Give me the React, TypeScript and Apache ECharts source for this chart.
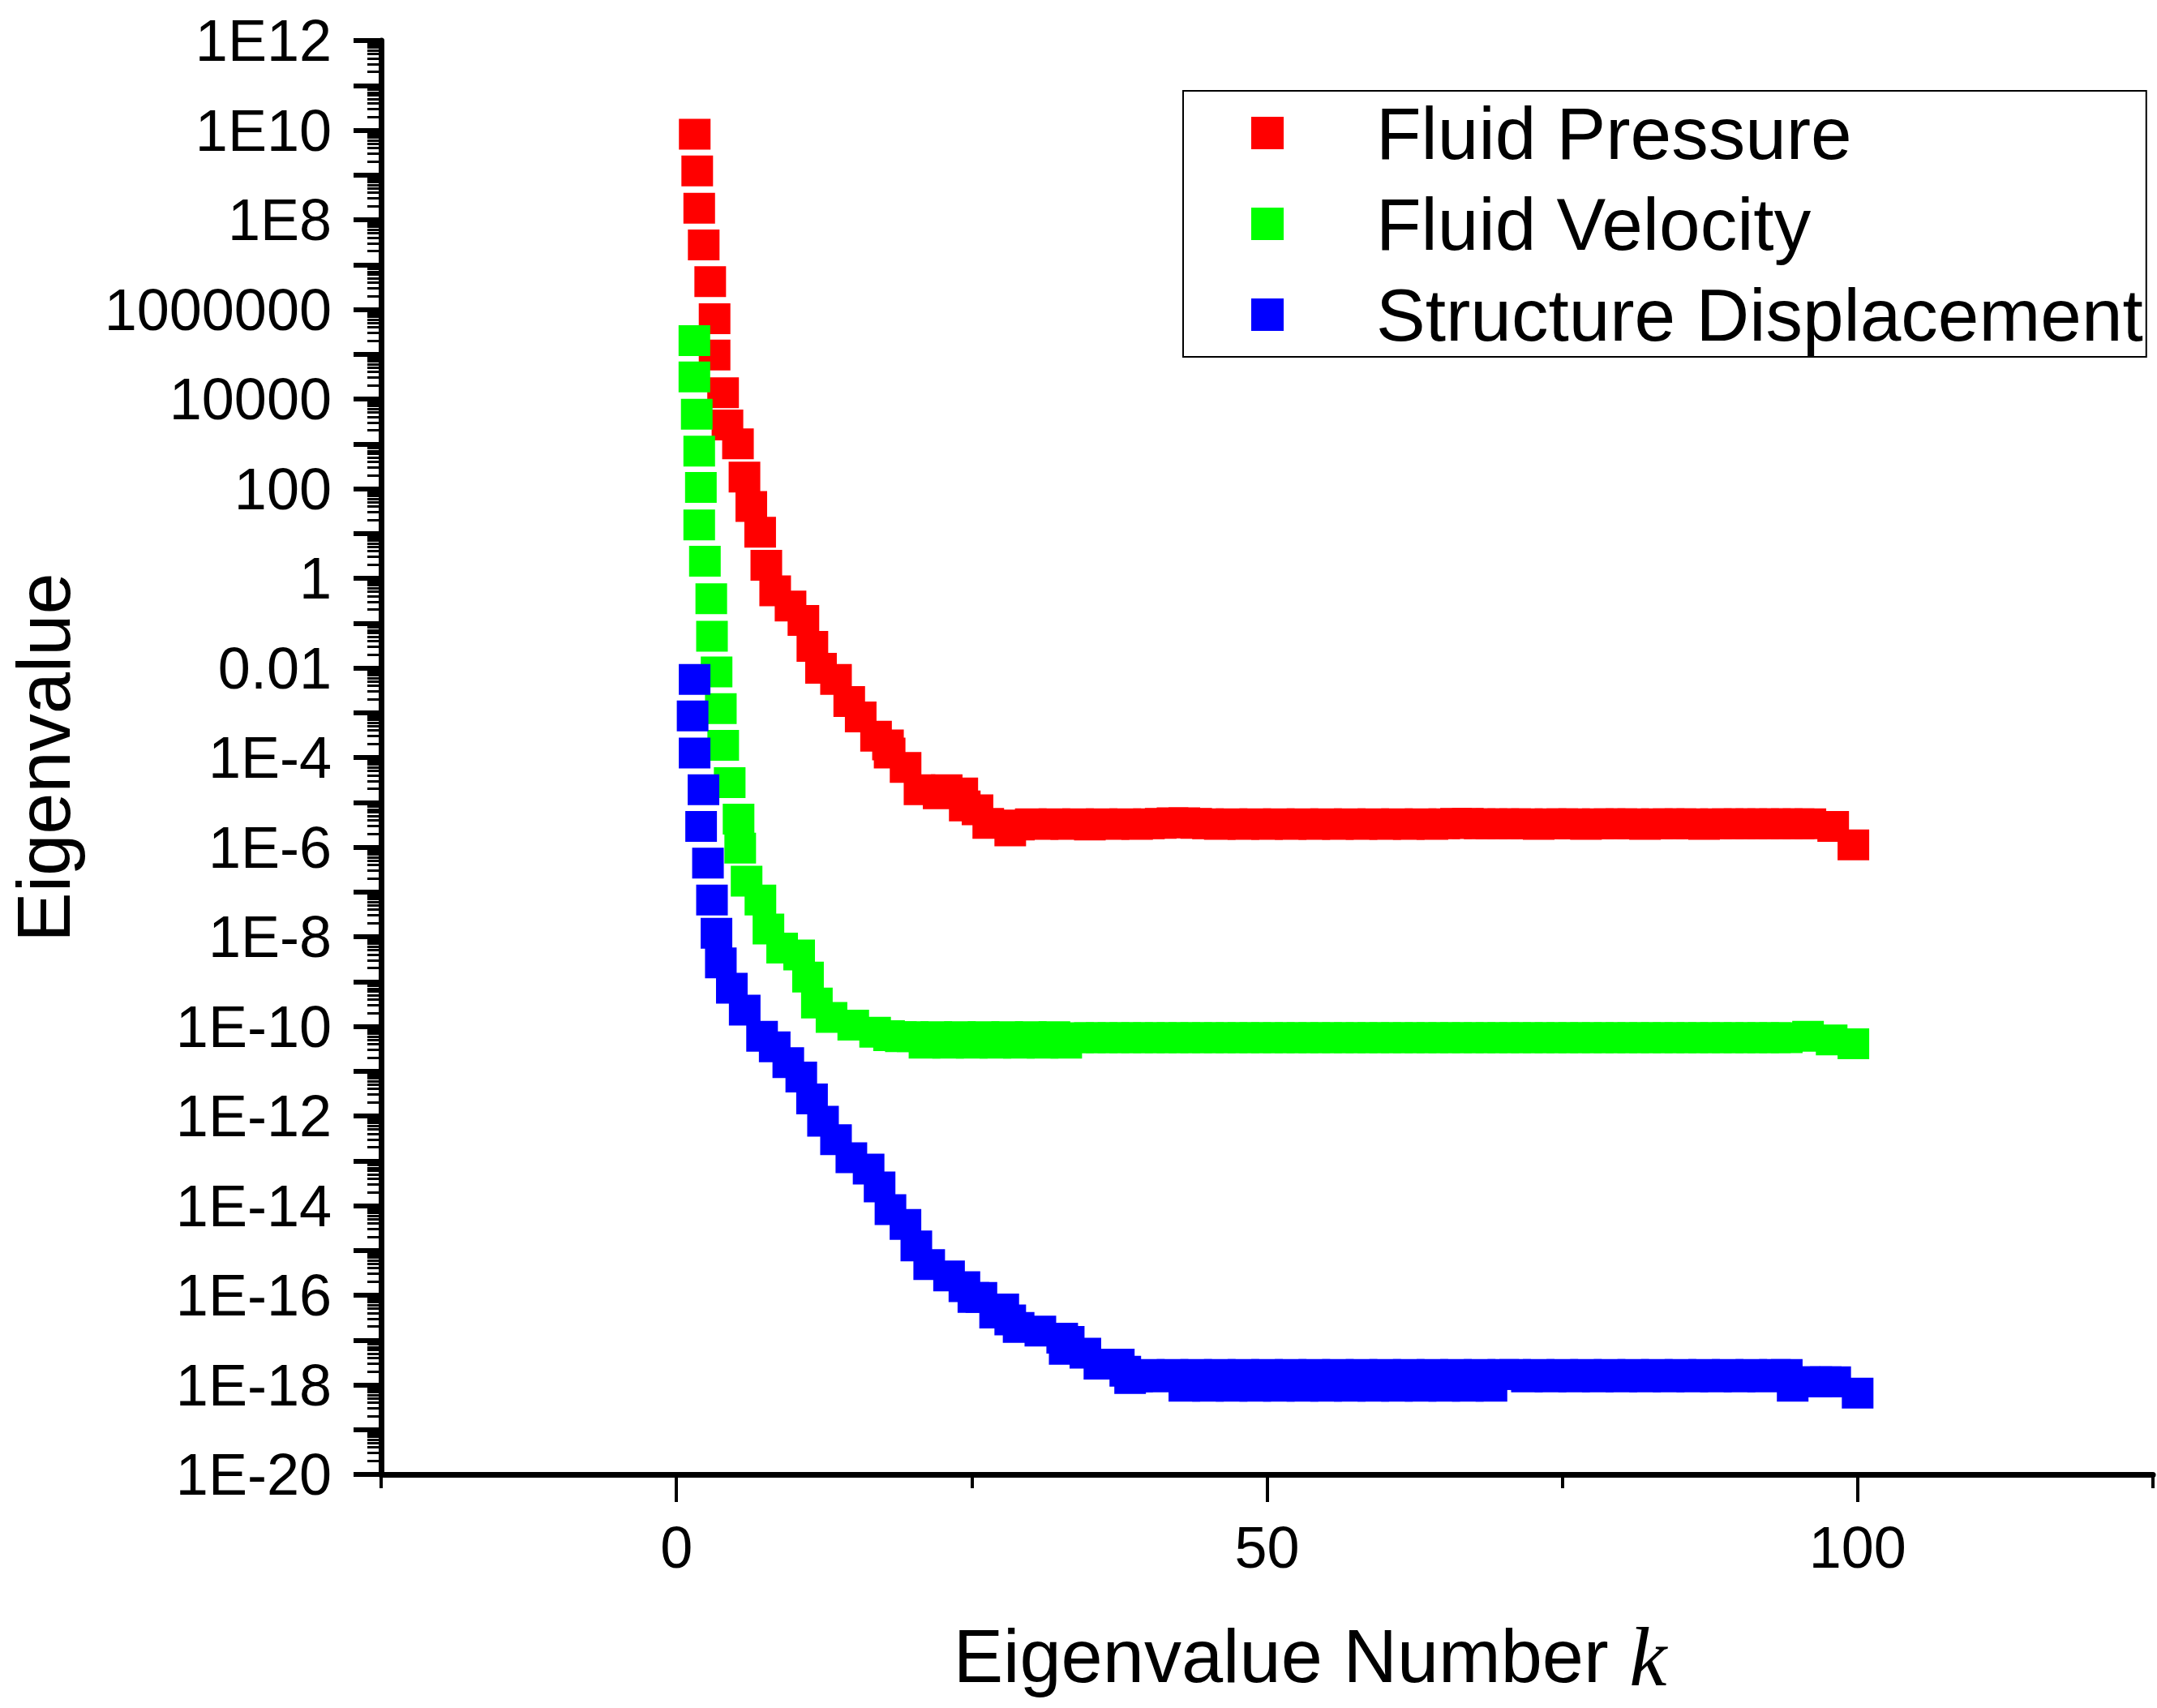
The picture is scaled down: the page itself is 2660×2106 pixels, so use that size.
import React, { useEffect, useRef } from "react";
import * as echarts from "echarts";

// ---- data (x = eigenvalue number k, y = eigenvalue) ----
const pressurePoints: [number, number][] = [
  [1.55, 8.1e9], [1.76, 1.23e9], [1.93, 1.82e8], [2.31, 2.75e7], [2.86, 4.17e6],
  [3.23, 6.17e5], [3.23, 9.55e4], [3.95, 1.38e4], [4.32, 2.63e3], [5.21, 1.0e3],
  [5.76, 182], [6.34, 39.8], [7.09, 10.7], [7.61, 1.95], [8.36, 0.525],
  [9.66, 0.24], [10.75, 0.115], [11.51, 0.0302], [12.24, 0.00977], [13.51, 0.0055],
  [14.63, 0.00178], [15.6, 8.0e-4], [16.9, 3.0e-4], [17.91, 1.9e-4], [18.05, 1.26e-4],
  [19.4, 6.0e-5], [20.58, 1.9e-5], [22.2, 1.55e-5], [22.88, 1.9e-5], [24.2, 1.62e-5],
  [24.41, 8.3e-6], [25.49, 6.8e-6], [26.4, 3.4e-6], [28.26, 2.3e-6],
  [29, 3.1e-6], [30, 3.3e-6], [31, 3.2e-6], [32, 3.3e-6], [33, 3.2e-6], [34, 3.3e-6],
  [35, 3.1e-6], [36, 3.3e-6], [37, 3.2e-6], [38, 3.3e-6], [39, 3.2e-6], [40, 3.3e-6],
  [41, 3.4e-6], [42, 3.5e-6], [43, 3.5e-6], [44, 3.4e-6], [45, 3.3e-6], [46, 3.2e-6],
  [47, 3.3e-6], [48, 3.2e-6], [49, 3.3e-6], [50, 3.2e-6], [51, 3.3e-6], [52, 3.2e-6],
  [53, 3.3e-6], [54, 3.2e-6], [55, 3.3e-6], [56, 3.2e-6], [57, 3.3e-6], [58, 3.2e-6],
  [59, 3.3e-6], [60, 3.2e-6], [61, 3.3e-6], [62, 3.2e-6], [63, 3.3e-6], [64, 3.2e-6],
  [65, 3.3e-6], [66, 3.4e-6], [67, 3.4e-6], [68, 3.3e-6], [69, 3.3e-6], [70, 3.3e-6],
  [71, 3.3e-6], [72, 3.3e-6], [73, 3.2e-6], [74, 3.3e-6], [75, 3.3e-6], [76, 3.3e-6],
  [77, 3.2e-6], [78, 3.3e-6], [79, 3.3e-6], [80, 3.3e-6], [81, 3.3e-6], [82, 3.2e-6],
  [83, 3.3e-6], [84, 3.3e-6], [85, 3.3e-6], [86, 3.3e-6], [87, 3.2e-6], [88, 3.3e-6],
  [89, 3.3e-6], [90, 3.3e-6], [91, 3.3e-6], [92, 3.3e-6], [93, 3.3e-6], [94, 3.3e-6],
  [95, 3.3e-6], [96, 3.3e-6], [97.93, 2.9e-6], [99.64, 1.12e-6],
];

const velocityPoints: [number, number][] = [
  [1.52, 2.0e5], [1.52, 3.1e4], [1.72, 4.6e3], [1.93, 690], [2.07, 107],
  [1.93, 15.5], [2.41, 2.4], [2.95, 0.35], [3.01, 0.051], [3.4, 8.1e-3],
  [3.76, 1.23e-3], [3.96, 1.86e-4], [4.51, 2.75e-5], [5.26, 4.2e-6], [5.4, 9.5e-7],
  [5.94, 1.74e-7], [7.11, 6.6e-8], [7.79, 1.48e-8], [8.95, 5.6e-9], [10.39, 3.9e-9],
  [11.14, 1.26e-9], [11.89, 3.3e-10], [13.13, 1.58e-10], [14.97, 1.07e-10], [16.82, 7.4e-11],
  [18, 6.2e-11], [19, 5.9e-11], [20, 5.9e-11], [21, 4.2e-11], [22, 5.9e-11], [23, 4.2e-11],
  [24, 5.9e-11], [25, 4.2e-11], [26, 5.9e-11], [27, 4.2e-11], [28, 5.9e-11], [29, 4.2e-11],
  [30, 5.9e-11], [31, 4.2e-11], [32, 5.9e-11], [33, 4.2e-11], [34, 5.6e-11], [35, 5.6e-11],
  [36, 5.6e-11], [37, 5.6e-11], [38, 5.6e-11], [39, 5.6e-11], [40, 5.6e-11], [41, 5.6e-11],
  [42, 5.6e-11], [43, 5.6e-11], [44, 5.6e-11], [45, 5.6e-11], [46, 5.6e-11], [47, 5.6e-11],
  [48, 5.6e-11], [49, 5.6e-11], [50, 5.6e-11], [51, 5.6e-11], [52, 5.6e-11], [53, 5.6e-11],
  [54, 5.6e-11], [55, 5.6e-11], [56, 5.6e-11], [57, 5.6e-11], [58, 5.6e-11], [59, 5.6e-11],
  [60, 5.6e-11], [61, 5.6e-11], [62, 5.6e-11], [63, 5.6e-11], [64, 5.6e-11], [65, 5.6e-11],
  [66, 5.6e-11], [67, 5.6e-11], [68, 5.6e-11], [69, 5.6e-11], [70, 5.6e-11], [71, 5.6e-11],
  [72, 5.6e-11], [73, 5.6e-11], [74, 5.6e-11], [75, 5.6e-11], [76, 5.6e-11], [77, 5.6e-11],
  [78, 5.6e-11], [79, 5.6e-11], [80, 5.6e-11], [81, 5.6e-11], [82, 5.6e-11], [83, 5.6e-11],
  [84, 5.6e-11], [85, 5.6e-11], [86, 5.6e-11], [87, 5.6e-11], [88, 5.6e-11], [89, 5.6e-11],
  [90, 5.6e-11], [91, 5.6e-11], [92, 5.6e-11], [93, 5.6e-11], [94, 5.6e-11],
  [95.8, 6.0e-11], [97.8, 5.0e-11], [99.64, 4.1e-11],
];

const displacementPoints: [number, number][] = [
  [1.54, 5.5e-3], [1.37, 8.5e-4], [1.54, 1.26e-4], [2.29, 1.9e-5], [2.09, 2.9e-6],
  [2.67, 4.4e-7], [3.01, 6.6e-8], [3.39, 1.2e-8], [3.76, 2.6e-9], [4.69, 7.1e-10],
  [5.78, 2.3e-10], [7.25, 6.0e-11], [8.32, 3.5e-11], [9.47, 1.55e-11], [10.57, 7.4e-12],
  [11.48, 2.4e-12], [12.41, 7.6e-13], [13.51, 2.95e-13], [14.81, 1.17e-13], [16.27, 6.5e-14],
  [17.2, 2.6e-14], [18.12, 8.1e-15], [19.39, 3.8e-15], [20.31, 1.26e-15], [21.4, 4.8e-16],
  [23.08, 2.7e-16], [24.38, 1.55e-16], [25.14, 8.9e-17], [25.82, 8.9e-17], [26.98, 4.0e-17],
  [27.67, 4.9e-17], [28.26, 2.8e-17], [28.97, 1.9e-17], [30.81, 1.58e-17], [32.66, 1.1e-17],
  [32.87, 6.2e-18], [33.21, 9.3e-18], [34.62, 5.1e-18], [35.81, 2.9e-18], [37.45, 2.9e-18],
  [38.0, 2.0e-18], [38.41, 1.38e-18],
  [39, 1.5e-18], [40, 1.7e-18], [41, 1.5e-18], [42, 1.7e-18], [43, 9.3e-19], [44, 1.7e-18],
  [45, 9.3e-19], [46, 1.7e-18], [47, 9.3e-19], [48, 1.7e-18], [49, 9.3e-19], [50, 1.7e-18],
  [51, 9.3e-19], [52, 1.7e-18], [53, 9.3e-19], [54, 1.7e-18], [55, 9.3e-19], [56, 1.7e-18],
  [57, 9.3e-19], [58, 1.7e-18], [59, 9.3e-19], [60, 1.7e-18], [61, 9.3e-19], [62, 1.7e-18],
  [63, 9.3e-19], [64, 1.7e-18], [65, 9.3e-19], [66, 1.7e-18], [67, 9.3e-19], [68, 1.7e-18],
  [69, 9.3e-19], [70, 1.7e-18], [71, 1.7e-18], [72, 1.5e-18], [73, 1.7e-18], [74, 1.5e-18],
  [75, 1.7e-18], [76, 1.5e-18], [77, 1.7e-18], [78, 1.5e-18], [79, 1.7e-18], [80, 1.5e-18],
  [81, 1.7e-18], [82, 1.5e-18], [83, 1.7e-18], [84, 1.5e-18], [85, 1.7e-18], [86, 1.5e-18],
  [87, 1.7e-18], [88, 1.5e-18], [89, 1.7e-18], [90, 1.5e-18], [91, 1.7e-18], [92, 1.5e-18],
  [93, 1.7e-18], [94, 1.7e-18], [94.5, 9.3e-19], [95.5, 1.17e-18], [96.5, 1.17e-18],
  [97.3, 1.17e-18], [98.1, 1.17e-18], [100, 6.5e-19],
];

const seriesNames = ["Fluid Pressure", "Fluid Velocity", "Structure Displacement"];
const seriesColors = ["#ff0000", "#00ff00", "#0000ff"];

const xMin = -25;
const xMax = 125;
const xMajorTicks = [0, 50, 100];
const xMinorTicks = [-25, 25, 75, 125];

const yMin = 1e-20;
const yMax = 1e12;
const yLabelValues = [1e-20, 1e-18, 1e-16, 1e-14, 1e-12, 1e-10, 1e-8, 1e-6, 1e-4, 1e-2, 1, 1e2, 1e4, 1e6, 1e8, 1e10, 1e12];
const yDecadeExponents = [-20, -19, -18, -17, -16, -15, -14, -13, -12, -11, -10, -9, -8, -7, -6, -5, -4, -3, -2, -1, 0, 1, 2, 3, 4, 5, 6, 7, 8, 9, 10, 11, 12];
const yMinorMantissas = [2, 3, 4, 5, 6, 7, 8, 9];

const FONT = "'Liberation Sans', Arial, sans-serif";

function formatLog(v: number): string {
  const e = Math.round(Math.log10(v));
  if (e >= 0 && e <= 6) return "1" + "0".repeat(e);
  if (e < 0 && e >= -2) return "0." + "0".repeat(-e - 1) + "1";
  return "1E" + e;
}

export default function App() {
  const ref = useRef<HTMLDivElement>(null);

  useEffect(() => {
    if (!ref.current) return;
    const chart = echarts.init(ref.current, null, { renderer: "svg" });

    const yDecadeTicks = yDecadeExponents.map((e) => Math.pow(10, e));
    const yMinorTicks: number[] = [];
    yDecadeExponents.slice(0, -1).forEach((e) => {
      yMinorMantissas.forEach((m) => yMinorTicks.push(m * Math.pow(10, e)));
    });

    const allPoints = [pressurePoints, velocityPoints, displacementPoints];

    const option: any = {
      animation: false,
      backgroundColor: "#ffffff",
      textStyle: { fontFamily: FONT, color: "#000" },
      grid: { left: 463, right: 5, top: 50, bottom: 288, containLabel: false },
      legend: {
        orient: "vertical",
        left: 1459,
        top: 112,
        padding: [2, 4, 2, 84],
        itemGap: 12,
        itemWidth: 40,
        itemHeight: 40,
        icon: "rect",
        selectedMode: false,
        borderColor: "#000",
        borderWidth: 2,
        textStyle: { fontSize: 91, fontFamily: FONT, color: "#000", lineHeight: 100, padding: [0, 0, 0, 109] },
        data: seriesNames,
      },
      xAxis: [
        {
          type: "value",
          min: xMin,
          max: xMax,
          position: "bottom",
          name: "{a|Eigenvalue Number }{k|k}",
          nameLocation: "middle",
          nameGap: 172,
          nameTextStyle: {
            padding: [0, 0, 0, 106],
            rich: {
              a: { fontSize: 92, fontFamily: FONT, color: "#000" },
              k: { fontSize: 104, fontFamily: "'Liberation Serif', 'DejaVu Serif', serif", fontStyle: "italic", color: "#000" },
            },
          },
          axisLine: { show: true, onZero: false, lineStyle: { color: "#000", width: 7 } },
          axisTick: { show: true, inside: false, length: 34, lineStyle: { color: "#000", width: 4 }, customValues: xMajorTicks },
          axisLabel: { show: true, fontSize: 72, fontFamily: FONT, color: "#000", margin: 54, customValues: xMajorTicks },
          splitLine: { show: false },
        },
        {
          type: "value",
          min: xMin,
          max: xMax,
          position: "bottom",
          gridIndex: 0,
          axisLine: { show: false, onZero: false },
          axisTick: { show: true, inside: false, length: 17, lineStyle: { color: "#000", width: 4 }, customValues: xMinorTicks },
          axisLabel: { show: false },
          splitLine: { show: false },
        },
      ],
      yAxis: [
        {
          type: "log",
          logBase: 10,
          min: yMin,
          max: yMax,
          position: "left",
          name: "Eigenvalue",
          nameLocation: "middle",
          nameGap: 370,
          nameTextStyle: { fontSize: 92, fontFamily: FONT, color: "#000" },
          axisLine: { show: true, onZero: false, lineStyle: { color: "#000", width: 7 } },
          axisTick: { show: true, inside: false, length: 34, lineStyle: { color: "#000", width: 6 }, customValues: yDecadeTicks },
          axisLabel: {
            show: true,
            fontSize: 72,
            fontFamily: FONT,
            color: "#000",
            margin: 61,
            customValues: yLabelValues,
            formatter: (v: number) => formatLog(v),
          },
          splitLine: { show: false },
        },
        {
          type: "log",
          logBase: 10,
          min: yMin,
          max: yMax,
          position: "left",
          gridIndex: 0,
          axisLine: { show: false, onZero: false },
          axisTick: { show: true, inside: false, length: 17, lineStyle: { color: "#000", width: 3 }, customValues: yMinorTicks },
          axisLabel: { show: false },
          splitLine: { show: false },
        },
      ],
      series: allPoints.map((pts, i) => ({
        type: "scatter",
        name: seriesNames[i],
        xAxisIndex: 0,
        yAxisIndex: 0,
        symbol: "rect",
        symbolSize: [39, 38],
        itemStyle: { color: seriesColors[i], opacity: 1 },
        emphasis: { disabled: true },
        z: 2 + i,
        data: pts,
      })),
    };

    chart.setOption(option);
    return () => chart.dispose();
  }, []);

  return (
    <div
      ref={ref}
      style={{ position: "fixed", left: 0, top: 0, width: 2660, height: 2106, background: "#fff" }}
    />
  );
}
